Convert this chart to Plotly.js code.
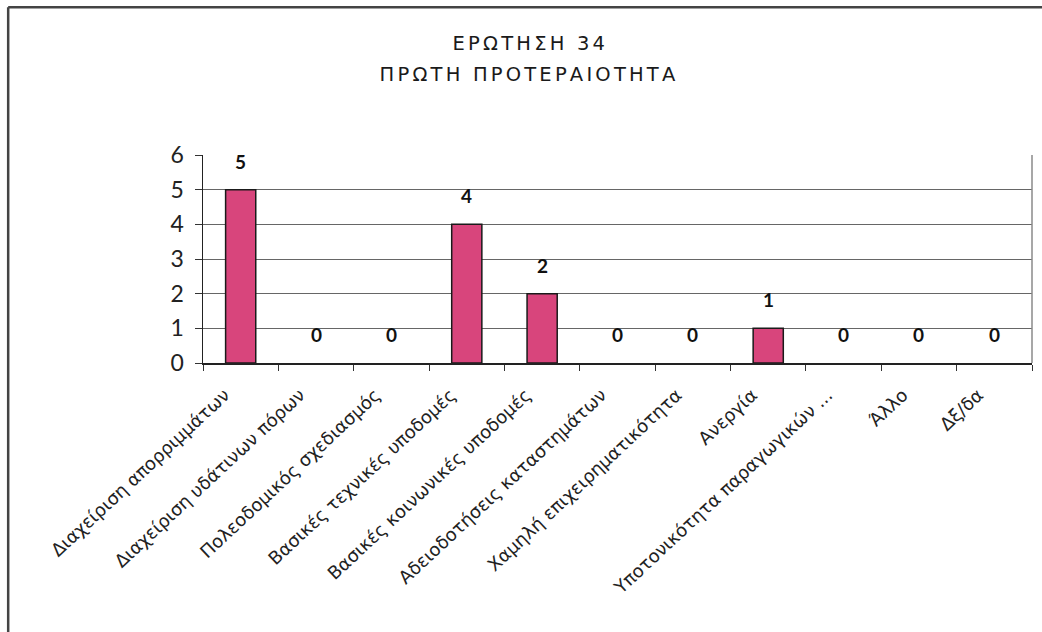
<!DOCTYPE html>
<html>
<head>
<meta charset="utf-8">
<script src="https://cdn.plot.ly/plotly-3.0.1.min.js"></script>
<style>
html,body{margin:0;padding:0;background:#fff;}
#chart{width:1042px;height:632px;}
.gtitle, .annotation[data-index="0"] text{letter-spacing:3.2px;}
</style>
</head>
<body>
<div id="chart"></div>
<script>
const categories = [
  "Διαχείριση απορριμμάτων",
  "Διαχείριση υδάτινων πόρων",
  "Πολεοδομικός σχεδιασμός",
  "Βασικές τεχνικές υποδομές",
  "Βασικές κοινωνικές υποδομές",
  "Αδειοδοτήσεις καταστημάτων",
  "Χαμηλή επιχειρηματικότητα",
  "Ανεργία",
  "Υποτονικότητα παραγωγικών ...",
  "Άλλο",
  "Δξ/δα"
];
const values = [5, 0, 0, 4, 2, 0, 0, 1, 0, 0, 0];
const yTicks = [0, 1, 2, 3, 4, 5, 6];
const titleLine1 = "ΕΡΩΤΗΣΗ 34";
const titleLine2 = "ΠΡΩΤΗ ΠΡΟΤΕΡΑΙΟΤΗΤΑ";

const titleFont = {family: "'DejaVu Sans', sans-serif", size: 19.5, color: "#1a1a1a"};

const trace = {
  type: "bar",
  x: categories,
  y: values,
  width: 0.4,
  marker: {
    color: "#d8457c",
    line: {color: "#1a1a1a", width: values.map(v => v > 0 ? 1.5 : 0)}
  },
  hoverinfo: "none"
};

const annotations = [{
  text: titleLine2, xref: "paper", yref: "paper",
  x: 0.394, y: 1.385, xanchor: "center", yanchor: "middle",
  showarrow: false, font: titleFont
}].concat(categories.map((c, i) => ({
  x: c, y: values[i], xref: "x", yref: "y",
  text: String(values[i]), showarrow: false,
  yanchor: "bottom", yshift: 15,
  font: {family: "Lato, 'Open Sans', sans-serif", size: 19, color: "#111", weight: 700}
})));

const layout = {
  width: 1042, height: 632,
  paper_bgcolor: "#ffffff", plot_bgcolor: "#ffffff",
  margin: {l: 203, r: 10, t: 155, b: 269},
  showlegend: false,
  title: {
    text: titleLine1,
    x: 0.509, xanchor: "center",
    y: 0.943, yanchor: "top",
    font: titleFont
  },
  xaxis: {
    type: "category",
    tickangle: -43,
    tickson: "boundaries",
    ticks: "outside", ticklen: 6, tickcolor: "#333",
    showline: true, linecolor: "#222", linewidth: 1.5,
    showgrid: false,
    tickfont: {family: "'DejaVu Sans', sans-serif", size: 18, color: "#222"},
    ticklabelstandoff: 13,
    ticklabelshift: -16
  },
  yaxis: {
    range: [0, 6],
    tickvals: yTicks,
    ticks: "outside", ticklen: 7, tickcolor: "#333",
    showline: true, linecolor: "#222", linewidth: 1.5,
    showgrid: true, gridcolor: "#666666", gridwidth: 1,
    zeroline: false,
    tickfont: {family: "Lato, 'Open Sans', sans-serif", size: 23, color: "#222"},
    ticklabelstandoff: 6
  },
  annotations: annotations,
  shapes: [
    {type: "line", xref: "paper", yref: "paper", x0: 1, x1: 1, y0: 0, y1: 1,
     line: {color: "#8a8a8a", width: 1.5}},
    {type: "line", xref: "paper", yref: "paper", x0: -0.235, x1: -0.235, y0: -1.3, y1: 1.71,
     line: {color: "#444", width: 2.5}},
    {type: "line", xref: "paper", yref: "paper", x0: -0.235, x1: 1.02, y0: 1.71, y1: 1.71,
     line: {color: "#444", width: 2.5}}
  ]
};

Plotly.newPlot("chart", [trace], layout, {displayModeBar: false, staticPlot: true});
</script>
</body>
</html>
